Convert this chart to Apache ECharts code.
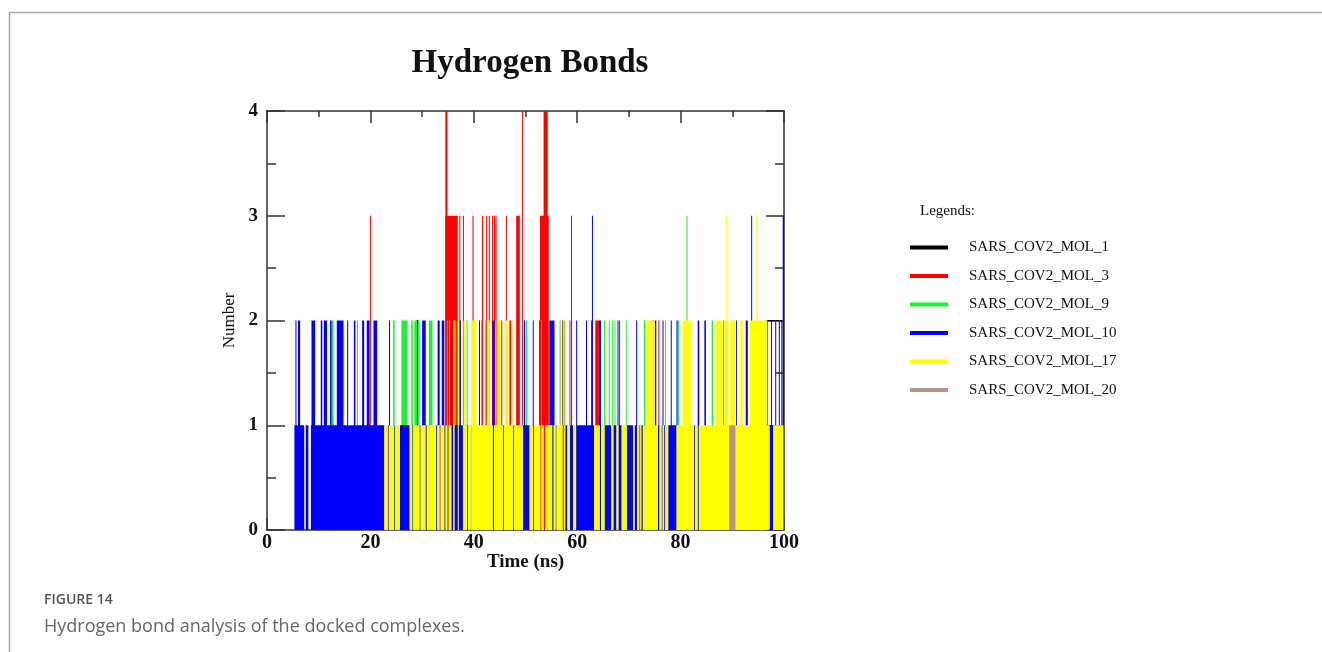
<!DOCTYPE html>
<html>
<head>
<meta charset="utf-8">
<script src="https://cdn.jsdelivr.net/npm/echarts@6/dist/echarts.min.js"></script>
<style>
html,body{margin:0;padding:0;background:#fff;}
#c{width:1322px;height:652px;}
</style>
</head>
<body>
<div id="c"></div>
<script>
// ---------- DATA (segments: [start ns, end ns, number of H-bonds]) ----------
const seriesNames = ['SARS_COV2_MOL_1','SARS_COV2_MOL_3','SARS_COV2_MOL_9','SARS_COV2_MOL_10','SARS_COV2_MOL_17','SARS_COV2_MOL_20'];
const seriesColors = ['#000000','#ff0000','#22ee33','#0000ff','#ffff00','#bc8f8f'];
const xTicks = [0,20,40,60,80,100];
const yTicks = [0,1,2,3,4];

const mol1 = [[29.0,29.2,2],[96.8,99.6,2]];

const mol3 = [
  [19.9,20.05,3],[34.5,34.9,4],[34.5,36.9,3],[37.2,37.4,3],[37.9,38.05,3],[39.75,39.95,3],
  [41.6,41.8,3],[42.4,42.6,3],[42.9,43.1,3],[43.5,43.7,3],[43.9,44.1,3],[44.2,44.4,3],
  [45.3,45.5,2],[46.2,46.35,3],[47.0,47.2,2],[48.2,48.9,3],[49.3,49.45,4],[52.6,52.7,2],
  [52.8,54.5,3],[53.5,54.3,4],[57.1,57.2,2],[58.5,58.6,2],[58.8,58.95,3],[63.5,64.2,2],
  [68.1,68.2,2],[75.7,75.9,2]
];

const mol9 = [
  [12.5,12.9,2],[17.4,17.6,2],[24.4,24.7,2],[26.0,27.2,2],[27.9,28.2,2],[28.5,29.0,2],
  [29.2,29.5,2],[31.3,32.0,2],[34.8,35.0,2],[36.4,36.6,2],[38.6,38.8,2],[41.4,41.6,2],
  [42.2,42.3,2],[44.6,44.75,2],[46.8,46.95,2],[49.8,49.95,2],[50.1,50.2,2],[53.0,53.1,2],
  [56.6,56.7,2],[57.5,57.6,2],[65.2,65.3,2],[66.1,66.2,2],[66.7,66.8,2],[67.2,67.3,2],
  [69.4,69.5,2],[72.9,73.2,2],[77.0,77.1,2],[79.4,79.7,2],[81.15,81.3,3],[86.0,86.3,2],
  [88.2,88.3,2],[88.5,88.6,2]
];

const mol10 = [
  [5.3,7.2,1],[7.5,8.0,1],[8.5,22.7,1],
  [5.5,5.7,2],[6.0,6.4,2],[8.6,9.3,2],[10.4,10.7,2],[11.0,11.6,2],[12.2,12.5,2],[13.5,14.8,2],
  [15.5,15.7,2],[16.8,17.1,2],[18.4,18.8,2],[19.3,19.85,2],[20.6,21.3,2],[23.6,23.8,2],
  [25.7,27.6,1],[35.7,37.9,1],[49.5,50.8,1],[57.7,58.1,1],[58.6,59.2,1],[59.8,63.3,1],
  [65.3,66.6,1],[67.0,67.6,1],[68.0,68.6,1],[69.6,70.8,1],[71.1,71.6,1],[72.4,72.7,1],
  [75.6,75.9,1],[77.6,79.2,1],[97.2,97.9,1],
  [23.37,23.53,1],[24.62,24.78,1],[28.12,28.28,1],[29.52,29.68,1],[30.72,30.88,1],[32.72,32.88,1],
  [34.32,34.48,1],[34.92,35.08,1],[38.72,38.88,1],[39.42,39.58,1],[43.72,43.88,1],[45.62,45.78,1],
  [47.62,47.78,1],[51.52,51.68,1],[55.22,55.38,1],[55.82,55.98,1],[57.22,57.38,1],[64.42,64.58,1],
  [72.02,72.18,1],[73.92,74.08,1],[76.32,76.48,1],[76.82,76.98,1],[82.62,82.78,1],[83.32,83.48,1],
  [30.0,30.7,2],[33.0,33.4,2],[33.8,34.3,2],[35.6,35.8,2],[37.3,37.5,2],[41.0,41.2,2],[43.6,44.0,2],
  [49.7,49.9,2],[51.4,51.5,2],[54.6,55.6,2],[59.8,59.9,2],[61.7,61.8,2],[62.7,62.8,2],[62.85,63.0,3],
  [64.2,64.6,2],[67.8,67.9,2],[71.4,71.5,2],[74.6,74.9,2],[75.0,75.3,2],[76.5,76.6,2],[78.1,78.2,2],
  [79.2,79.4,2],[83.3,83.6,2],[84.6,84.9,2],[90.7,90.8,2],[92.6,93.0,2],[93.65,93.8,3],
  [97.5,97.6,2],[98.3,98.4,2],[99.0,99.2,2],[99.75,100,3]
];

const mol17 = [
  [22.7,23.35,1],[23.55,24.6,1],[24.8,25.7,1],[27.6,28.1,1],[28.3,29.5,1],[29.7,30.7,1],[30.9,32.7,1],
  [32.9,33.4,1],[33.6,34.3,1],[34.5,34.9,1],[35.1,35.7,1],[37.9,38.7,1],[38.9,39.4,1],[39.6,43.7,1],
  [43.9,45.6,1],[45.8,47.6,1],[47.8,49.5,1],[50.8,51.5,1],[51.7,52.9,1],[53.1,53.55,1],[53.8,55.2,1],
  [55.4,55.8,1],[56.0,57.2,1],[57.4,57.7,1],[58.1,58.6,1],[59.2,59.8,1],[63.3,64.4,1],[64.6,65.3,1],
  [66.6,67.0,1],[67.6,68.0,1],[68.6,69.6,1],[70.8,71.1,1],[71.6,72.0,1],[72.2,72.4,1],[72.7,73.9,1],
  [74.1,75.6,1],[75.9,76.3,1],[76.5,76.8,1],[77.0,77.6,1],[79.2,82.6,1],[82.8,83.3,1],[83.5,97.2,1],
  [97.9,99.9,1],
  [35.2,35.4,2],[36.0,36.3,2],[36.9,37.1,2],[38.0,38.3,2],[39.5,40.5,2],[42.7,43.1,2],[44.6,45.2,2],
  [46.0,46.6,2],[47.2,47.5,2],[73.4,75.0,2],[80.4,82.0,2],[86.8,88.1,2],[88.4,89.2,2],[89.6,90.6,2],
  [91.5,92.0,2],[93.4,96.8,2],
  [88.85,89.0,3],[94.65,94.8,3]
];

const mol20 = [[33.45,33.6,1],[89.4,90.6,1]];

const allData = [mol1, mol3, mol9, mol10, mol17, mol20];

// ---------- CHART ----------
const chart = echarts.init(document.getElementById('c'), null, {renderer:'canvas'});
const serif = '"Liberation Serif","Times New Roman",serif';

function makeRender(outline){
  return function(params, api){
    const p0 = api.coord([api.value(0), 0]);
    const p1 = api.coord([api.value(1), api.value(2)]);
    const w = Math.max(p1[0]-p0[0], 1.0);
    const color = api.visual('color');
    return {
      type:'rect',
      shape:{x:p0[0], y:p1[1], width:w, height:p0[1]-p1[1]},
      style: outline ? {fill:null, stroke:color, lineWidth:1} : {fill:color},
      silent:true
    };
  };
}

const series = seriesNames.map((n,i)=>({
  type:'custom',
  name:n,
  data:allData[i],
  encode:{x:[0,1], y:2},
  itemStyle:{color:seriesColors[i]},
  renderItem: makeRender(i===0),
  clip:true,
  animation:false
}));

const axisLineStyle = {color:'#333', width:1.5};

const option = {
  animation:false,
  backgroundColor:'#fff',
  title:{
    text:'Hydrogen Bonds',
    left:525, top:42, textAlign:'center',
    textStyle:{fontFamily:serif, fontSize:33, fontWeight:'bold', color:'#111'}
  },
  legend:{
    orient:'vertical', left:905, top:235,
    icon:'rect', itemWidth:38, itemHeight:4, itemGap:13.5,
    data:seriesNames,
    textStyle:{fontFamily:serif, fontSize:15, color:'#111', padding:[0,0,0,16]},
    selectedMode:false
  },
  grid:{left:267, top:111, width:517, height:419},
  xAxis:[{
    type:'value', min:0, max:100, interval:20,
    name:'Time (ns)', nameLocation:'middle', nameGap:23, nameMoveOverlap:false,
    nameTextStyle:{fontFamily:serif, fontSize:19, fontWeight:'bold', color:'#111'},
    axisLine:{show:true, onZero:false, lineStyle:axisLineStyle},
    axisTick:{show:true, inside:true, length:12, lineStyle:axisLineStyle},
    minorTick:{show:true, splitNumber:2, length:6, lineStyle:axisLineStyle},
    axisLabel:{fontFamily:serif, fontSize:20, fontWeight:'bold', color:'#111', margin:3},
    splitLine:{show:false}
  },{
    type:'value', min:0, max:100, interval:20, position:'top',
    axisLine:{show:true, onZero:false, lineStyle:axisLineStyle},
    axisTick:{show:true, inside:true, length:12, lineStyle:axisLineStyle},
    minorTick:{show:true, splitNumber:2, length:6, lineStyle:axisLineStyle},
    axisLabel:{show:false}, splitLine:{show:false}
  }],
  yAxis:[{
    type:'value', min:0, max:4, interval:1,
    name:'Number', nameLocation:'middle', nameGap:29, nameRotate:90,
    nameTextStyle:{fontFamily:serif, fontSize:17, color:'#111'},
    axisLine:{show:true, onZero:false, lineStyle:axisLineStyle},
    axisTick:{show:true, inside:true, length:18, lineStyle:axisLineStyle},
    minorTick:{show:true, splitNumber:2, length:9, lineStyle:axisLineStyle},
    axisLabel:{fontFamily:serif, fontSize:19, fontWeight:'bold', color:'#111', margin:9},
    splitLine:{show:false}
  },{
    type:'value', min:0, max:4, interval:1, position:'right',
    axisLine:{show:true, onZero:false, lineStyle:axisLineStyle},
    axisTick:{show:true, inside:true, length:18, lineStyle:axisLineStyle},
    minorTick:{show:true, splitNumber:2, length:9, lineStyle:axisLineStyle},
    axisLabel:{show:false}, splitLine:{show:false}
  }],
  graphic:[
    {type:'line', shape:{x1:9, y1:12.5, x2:1322, y2:12.5}, style:{stroke:'#aaa', lineWidth:1.5}, silent:true},
    {type:'line', shape:{x1:9.5, y1:12, x2:9.5, y2:652}, style:{stroke:'#aaa', lineWidth:1.5}, silent:true},
    {type:'text', left:920, top:204, style:{text:'Legends:', font:'15px "Liberation Serif", serif', fill:'#111'}, silent:true},
    {type:'text', left:44, top:593, style:{text:'FIGURE 14', font:'600 14px "Open Sans", sans-serif', fill:'#555'}, silent:true},
    {type:'text', left:44, top:618, style:{text:'Hydrogen bond analysis of the docked complexes.', font:'18px "Open Sans", sans-serif', fill:'#666'}, silent:true}
  ],
  series: series
};
chart.setOption(option);
</script>
</body>
</html>
